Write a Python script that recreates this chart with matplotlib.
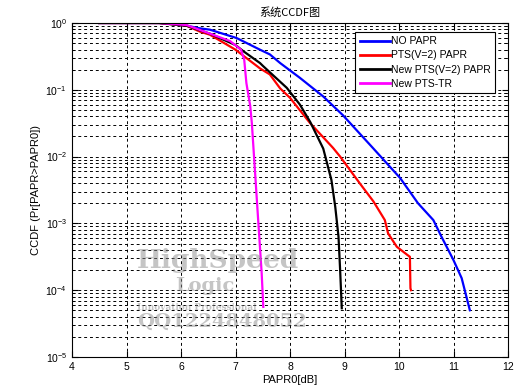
import numpy as np
import matplotlib
matplotlib.use("Agg")
import matplotlib.pyplot as plt
from matplotlib.ticker import LogLocator, NullFormatter, FixedLocator

plt.rcParams['font.family'] = ['Liberation Sans', 'Noto Sans CJK SC', 'DejaVu Sans']
plt.rcParams['mathtext.fontset'] = 'custom'
plt.rcParams['mathtext.rm'] = 'Liberation Sans'
plt.rcParams['mathtext.it'] = 'Liberation Sans'
plt.rcParams['mathtext.default'] = 'regular'

# ---- data (log10 of CCDF) ----
x_no = [4.5, 5.6, 5.8, 6.1, 6.35, 6.53, 7.02, 7.45, 7.63, 7.82, 8.18, 8.61, 8.97,
        9.52, 10.02, 10.35, 10.63, 10.78, 11.0, 11.15, 11.30]
lg_no = [0, 0, -0.015, -0.04, -0.08, -0.10, -0.225, -0.40, -0.47, -0.60, -0.82, -1.10, -1.38,
         -1.87, -2.32, -2.70, -2.95, -3.2, -3.55, -3.82, -4.30]

x_pts = [4.5, 5.6, 6.1, 6.35, 6.53, 7.0, 7.45, 7.63, 7.82, 8.0, 8.37, 8.79, 8.92, 9.28,
         9.53, 9.74, 9.80, 9.96, 10.15, 10.2, 10.21, 10.22]
lg_pts = [0, 0, -0.04, -0.13, -0.175, -0.40, -0.68, -0.77, -0.98, -1.12, -1.50, -1.87, -2.0, -2.40,
          -2.67, -2.95, -3.15, -3.35, -3.47, -3.5, -3.97, -4.0]

x_new = [4.5, 5.6, 6.1, 6.35, 6.53, 7.0, 7.14, 7.45, 7.5, 7.82, 7.94, 8.18, 8.37, 8.61,
         8.76, 8.83, 8.89, 8.92, 8.95]
lg_new = [0, 0, -0.04, -0.11, -0.16, -0.33, -0.42, -0.6, -0.64, -0.88, -0.97, -1.22, -1.48, -1.88,
          -2.35, -2.75, -3.2, -3.7, -4.27]

x_tr = [4.5, 5.6, 6.1, 6.4, 6.9, 7.1, 7.16, 7.2, 7.27, 7.3, 7.36, 7.42, 7.48, 7.51]
lg_tr = [0, 0, -0.03, -0.12, -0.27, -0.40, -0.55, -0.9, -1.24, -1.5, -2.25, -3.0, -3.74, -4.25]

series = [
    ("NO PAPR", x_no, lg_no, "#0000ff"),
    ("PTS(V=2) PAPR", x_pts, lg_pts, "#ff0000"),
    ("New PTS(V=2) PAPR", x_new, lg_new, "#000000"),
    ("New PTS-TR", x_tr, lg_tr, "#ff00ff"),
]

xticks = [4, 5, 6, 7, 8, 9, 10, 11, 12]

fig = plt.figure(figsize=(5.21, 3.85), dpi=100)
ax = fig.add_axes([72/521, 1-357/385, (508-72)/521, (357-23)/385])

for name, xs, lg, c in series:
    ax.semilogy(xs, 10**np.array(lg), color=c, lw=1.6, label=name)

ax.set_xlim(4, 12)
ax.set_ylim(1e-5, 1)
ax.xaxis.set_major_locator(FixedLocator(xticks))
ax.yaxis.set_major_locator(LogLocator(base=10, numticks=10))
ax.yaxis.set_minor_locator(LogLocator(base=10, subs=np.arange(2, 10), numticks=10))
ax.yaxis.set_minor_formatter(NullFormatter())
ax.tick_params(direction='in', which='both', labelsize=7.5, top=True, right=True)
ax.tick_params(which='major', length=4)
ax.tick_params(which='minor', length=2)
ax.grid(True, which='major', color='k', ls=(0, (3, 3)), lw=0.7)
ax.grid(True, which='minor', axis='y', color='k', ls=(0, (3, 3)), lw=0.7)
for s in ax.spines.values():
    s.set_linewidth(0.8)

ax.set_title("系统CCDF图", fontsize=8, family=['Noto Sans CJK SC', 'DejaVu Sans'], pad=5)
ax.set_xlabel("PAPR0[dB]", fontsize=8, labelpad=2)
ax.set_ylabel("CCDF (Pr[PAPR>PAPR0])", fontsize=8, labelpad=3)

leg = ax.legend(loc='upper right', fontsize=7.5, frameon=True, fancybox=False,
                edgecolor='k', framealpha=1, handlelength=2.9, handletextpad=0.1,
                borderpad=0.45, labelspacing=0.4, bbox_to_anchor=(0.983, 0.99))
leg.get_frame().set_linewidth(0.8)
for l in leg.get_lines():
    l.set_linewidth(2)

# watermark
wm = dict(color='#8c8c8c', alpha=0.5, family='DejaVu Serif', weight='bold', zorder=10)
fig.text(137/521, 1-268/385, "HighSpeed", fontsize=19, **wm)
fig.text(175/521, 1-291/385, "Logic", fontsize=14, **wm)
fig.text(137/521, 1-310/385, "Innovation Professional", fontsize=6.5, **wm)
fig.text(137/521, 1-327/385, "QQ1224848052", fontsize=14, **wm)

fig.savefig("out.png", dpi=100)
